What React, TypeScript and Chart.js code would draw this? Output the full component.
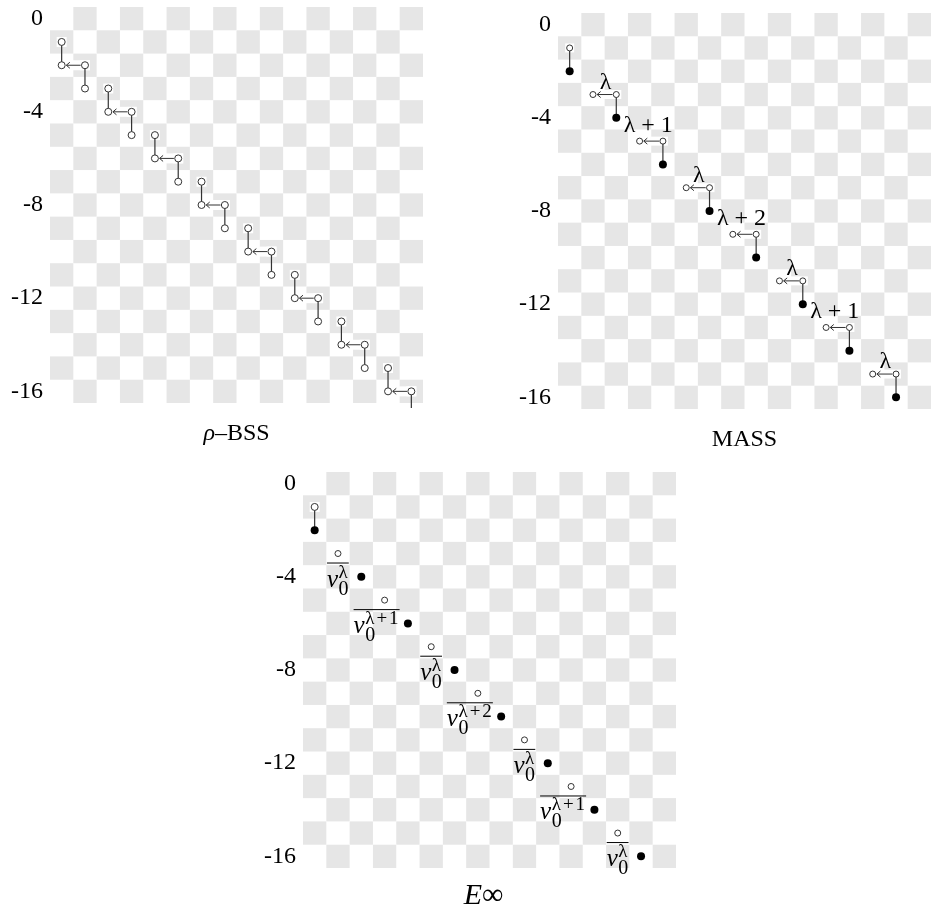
import React, { useEffect, useRef } from "react";
import { Chart, registerables } from "chart.js";
Chart.register(...registerables);

const SERIF = '"Liberation Serif", "Times New Roman", serif';
const CHECKER_GRAY = "#e6e6e6";
const INK = "#333333";

// shared grid (cells centred on integer values)
const gridCols = 16;
const gridRows = 17;
const xRange = [-0.5, 15.5];
const yRange = [-16.5, 0.5];
const yTickValues = [0, -4, -8, -12, -16];
const yTickLabels = ["0", "-4", "-8", "-12", "-16"];

// ---------- ρ–BSS ----------
const bssOpen = [
  [0, -1], [0, -2], [1, -2], [1, -3],
  [2, -3], [2, -4], [3, -4], [3, -5],
  [4, -5], [4, -6], [5, -6], [5, -7],
  [6, -7], [6, -8], [7, -8], [7, -9],
  [8, -9], [8, -10], [9, -10], [9, -11],
  [10, -11], [10, -12], [11, -12], [11, -13],
  [12, -13], [12, -14], [13, -14], [13, -15],
  [14, -15], [14, -16], [15, -16],
];
// [x, yFrom, yTo]
const bssLinks = [
  [0, -1, -2], [1, -2, -3], [2, -3, -4], [3, -4, -5],
  [4, -5, -6], [5, -6, -7], [6, -7, -8], [7, -8, -9],
  [8, -9, -10], [9, -10, -11], [10, -11, -12], [11, -12, -13],
  [12, -13, -14], [13, -14, -15], [14, -15, -16], [15, -16, -17],
];
// [xFrom, xTo, y]
const bssArrows = [
  [1, 0, -2], [3, 2, -4], [5, 4, -6], [7, 6, -8],
  [9, 8, -10], [11, 10, -12], [13, 12, -14], [15, 14, -16],
];

// ---------- MASS ----------
const massOpen = [
  [0, -1], [1, -3], [2, -3], [3, -5], [4, -5], [5, -7], [6, -7], [7, -9],
  [8, -9], [9, -11], [10, -11], [11, -13], [12, -13], [13, -15], [14, -15],
];
const massFilled = [
  [0, -2], [2, -4], [4, -6], [6, -8], [8, -10], [10, -12], [12, -14], [14, -16],
];
const massLinks = [
  [0, -1, -2], [2, -3, -4], [4, -5, -6], [6, -7, -8],
  [8, -9, -10], [10, -11, -12], [12, -13, -14], [14, -15, -16],
];
const massArrows = [
  [2, 1, -3], [4, 3, -5], [6, 5, -7], [8, 7, -9],
  [10, 9, -11], [12, 11, -13], [14, 13, -15],
];
const massLabels = ["λ", "λ + 1", "λ", "λ + 2", "λ", "λ + 1", "λ"];

// ---------- E∞ ----------
const einfOpen = [[0, -1]];
const einfFilled = [
  [0, -2], [2, -4], [4, -6], [6, -8], [8, -10], [10, -12], [12, -14], [14, -16],
];
const einfLinks = [[0, -1, -2]];
const einfNumerators = [
  [1, -3], [3, -5], [5, -7], [7, -9], [9, -11], [11, -13], [13, -15],
];
const einfExponents = ["λ", "λ+1", "λ", "λ+2", "λ", "λ+1", "λ"];

type Ctx = CanvasRenderingContext2D;

function linkData(links: number[][]) {
  const out: any[] = [];
  links.forEach(([x, a, b]) => {
    out.push({ x, y: a }, { x, y: b }, { x, y: null });
  });
  return out;
}

function whiteBox(ctx: Ctx, x0: number, x1: number, y: number, h: number) {
  ctx.fillStyle = "#ffffff";
  ctx.fillRect(x0, y - h, x1 - x0, 2 * h);
}

function drawArrow(ctx: Ctx, fromPx: number, toPx: number, yPx: number, r: number) {
  const tip = toPx + r + 1.2;
  const tail = fromPx - r - 0.8;
  ctx.save();
  ctx.strokeStyle = INK;
  ctx.lineWidth = 1;
  ctx.beginPath();
  ctx.moveTo(tail, yPx);
  ctx.lineTo(tip, yPx);
  ctx.moveTo(tip + 3.5, yPx - 3);
  ctx.lineTo(tip, yPx);
  ctx.lineTo(tip + 3.5, yPx + 3);
  ctx.stroke();
  ctx.restore();
}

const PLUS_GAP = 2;

// superscript with math-like spacing around "+"
function drawScript(ctx: Ctx, text: string, x: number, y: number) {
  const parts = text.split("+");
  let cx = x;
  parts.forEach((p, i) => {
    if (i > 0) {
      cx += PLUS_GAP;
      ctx.fillText("+", cx, y);
      cx += ctx.measureText("+").width + PLUS_GAP;
    }
    ctx.fillText(p, cx, y);
    cx += ctx.measureText(p).width;
  });
  return cx - x;
}

function scriptWidth(ctx: Ctx, text: string) {
  const parts = text.split("+");
  let w = 0;
  parts.forEach((p, i) => {
    if (i > 0) w += 2 * PLUS_GAP + ctx.measureText("+").width;
    w += ctx.measureText(p).width;
  });
  return w;
}

type Seg = { t: string; italic?: boolean };

type Spec = {
  left: number; top: number; width: number; height: number;
  padding: { top: number; right: number; bottom: number; left: number };
  open: number[][]; filled: number[][]; links: number[][];
  openRadius: number;
  caption: Seg[]; captionSize: number; captionOffset: number; captionShift: number;
  under?: (ctx: Ctx, X: (v: number) => number, Y: (v: number) => number) => void;
  over?: (ctx: Ctx, X: (v: number) => number, Y: (v: number) => number) => void;
};

const specs: Spec[] = [
  {
    left: 0, top: 0, width: 450, height: 460,
    padding: { top: 7, right: 27, bottom: 57, left: 0 },
    open: bssOpen, filled: [], links: bssLinks, openRadius: 3.5,
    caption: [{ t: "ρ", italic: true }, { t: "–BSS" }], captionSize: 24, captionOffset: 37, captionShift: 0,
    under: (ctx, X, Y) => {
      bssArrows.forEach(([f, t, y]) => whiteBox(ctx, X(t) - 5, X(f) + 5, Y(y), 5));
      bssOpen.forEach(([x, y]) => whiteBox(ctx, X(x) - 5, X(x) + 5, Y(y), 5));
    },
    over: (ctx, X, Y) => {
      bssArrows.forEach(([f, t, y]) => drawArrow(ctx, X(f), X(t), Y(y), 3.5));
    },
  },
  {
    left: 508, top: 6, width: 442, height: 460,
    padding: { top: 7, right: 19, bottom: 57, left: 0 },
    open: massOpen, filled: massFilled, links: massLinks, openRadius: 3,
    caption: [{ t: "MASS" }], captionSize: 24, captionOffset: 37, captionShift: 0,
    under: (ctx, X, Y) => {
      massArrows.forEach(([f, t, y]) => whiteBox(ctx, X(t) - 5, X(f) + 5, Y(y), 4.5));
      whiteBox(ctx, X(0) - 4.5, X(0) + 4.5, Y(-1), 4.5);
    },
    over: (ctx, X, Y) => {
      massArrows.forEach(([f, t, y]) => drawArrow(ctx, X(f), X(t), Y(y), 3));
      ctx.save();
      ctx.fillStyle = "#000";
      ctx.font = `24px ${SERIF}`;
      ctx.textAlign = "center";
      ctx.textBaseline = "alphabetic";
      massArrows.forEach(([f, t, y], i) => {
        const label = massLabels[i];
        const cx = (X(f) + X(t)) / 2 + (label.length > 1 ? -3 : 1);
        const off = label.length > 1 ? 9 : 6;
        ctx.fillText(label, cx, Y(y) - off);
      });
      ctx.restore();
    },
  },
  {
    left: 253, top: 465, width: 450, height: 448,
    padding: { top: 7, right: 27, bottom: 45, left: 0 },
    open: einfOpen, filled: einfFilled, links: einfLinks, openRadius: 3.5,
    caption: [{ t: "E", italic: true }, { t: "∞" }], captionSize: 30, captionOffset: 36, captionShift: -6,
    under: (ctx, X, Y) => {
      whiteBox(ctx, X(0) - 5, X(0) + 5, Y(-1), 5);
    },
    over: (ctx, X, Y) => {
      ctx.save();
      einfNumerators.forEach(([x, y], i) => {
        const cx = X(x), cy = Y(y);
        const exp = einfExponents[i];
        const wide = exp.length > 1;
        const left = wide ? cx - 31 : cx - 11;
        ctx.font = `italic 25px ${SERIF}`;
        const vW = ctx.measureText("v").width;
        ctx.font = `19px ${SERIF}`;
        const supW = scriptWidth(ctx, exp);
        const barR = left + vW + 0.5 + supW + 1;
        // numerator
        ctx.fillStyle = "#ffffff";
        ctx.strokeStyle = INK;
        ctx.lineWidth = 1;
        ctx.beginPath();
        ctx.arc(cx, cy, 3, 0, Math.PI * 2);
        ctx.fill();
        ctx.stroke();
        // bar
        ctx.strokeStyle = "#000";
        ctx.beginPath();
        ctx.moveTo(left, cy + 9.5);
        ctx.lineTo(barR, cy + 9.5);
        ctx.stroke();
        // denominator
        ctx.fillStyle = "#000";
        ctx.textAlign = "left";
        ctx.textBaseline = "alphabetic";
        ctx.font = `italic 25px ${SERIF}`;
        ctx.fillText("v", left, cy + 33);
        ctx.font = `19px ${SERIF}`;
        drawScript(ctx, exp, left + vW + 0.5, cy + 24);
        ctx.font = `20px ${SERIF}`;
        ctx.fillText("0", left + vW + 0.5, cy + 41);
      });
      ctx.restore();
    },
  },
];

function Panel({ spec }: { spec: Spec }) {
  const ref = useRef<HTMLCanvasElement | null>(null);
  useEffect(() => {
    if (!ref.current) return;
    const decor = {
      id: "decor",
      beforeDatasetsDraw(chart: any) {
        const { ctx, scales } = chart;
        const X = (v: number) => scales.x.getPixelForValue(v);
        const Y = (v: number) => scales.y.getPixelForValue(v);
        ctx.save();
        ctx.fillStyle = CHECKER_GRAY;
        for (let c = 0; c < gridCols; c++) {
          for (let r = 0; r < gridRows; r++) {
            if ((r + c) % 2 === 1) {
              const x0 = X(c - 0.5), x1 = X(c + 0.5);
              const y0 = Y(-r + 0.5), y1 = Y(-r - 0.5);
              ctx.fillRect(x0, y0, x1 - x0, y1 - y0);
            }
          }
        }
        if (spec.under) spec.under(ctx, X, Y);
        ctx.restore();
      },
      afterDatasetsDraw(chart: any) {
        const { ctx, scales } = chart;
        const X = (v: number) => scales.x.getPixelForValue(v);
        const Y = (v: number) => scales.y.getPixelForValue(v);
        if (spec.over) spec.over(ctx, X, Y);
      },
      afterDraw(chart: any) {
        const { ctx, chartArea } = chart;
        ctx.save();
        ctx.fillStyle = "#000";
        ctx.textBaseline = "alphabetic";
        ctx.textAlign = "left";
        const fonts = spec.caption.map(
          (s) => `${s.italic ? "italic " : ""}${spec.captionSize}px ${SERIF}`
        );
        let total = 0;
        const widths = spec.caption.map((s, i) => {
          ctx.font = fonts[i];
          const w = ctx.measureText(s.t).width;
          total += w;
          return w;
        });
        let x = (chartArea.left + chartArea.right) / 2 - total / 2 + spec.captionShift;
        const y = chartArea.bottom + spec.captionOffset;
        spec.caption.forEach((s, i) => {
          ctx.font = fonts[i];
          ctx.fillText(s.t, x, y);
          x += widths[i];
        });
        ctx.restore();
      },
    };
    const chart = new Chart(ref.current, {
      type: "scatter",
      data: {
        datasets: [
          {
            data: spec.open.map(([x, y]) => ({ x, y })),
            pointRadius: spec.openRadius,
            pointBackgroundColor: "#ffffff",
            pointBorderColor: INK,
            pointBorderWidth: 1,
            order: 0,
          } as any,
          {
            data: spec.filled.map(([x, y]) => ({ x, y })),
            pointRadius: 4,
            pointBackgroundColor: "#000000",
            pointBorderColor: "#000000",
            pointBorderWidth: 0,
            order: 0,
          } as any,
          {
            type: "line",
            data: linkData(spec.links),
            borderColor: INK,
            borderWidth: 1.2,
            pointRadius: 0,
            spanGaps: false,
            fill: false,
            order: 5,
            clip: { left: 0, top: 0, right: 0, bottom: 5 },
          } as any,
        ],
      },
      options: {
        animation: false,
        responsive: false,
        events: [],
        layout: { padding: spec.padding },
        plugins: { legend: { display: false }, tooltip: { enabled: false } },
        scales: {
          x: { type: "linear", min: xRange[0], max: xRange[1], display: false },
          y: {
            type: "linear",
            min: yRange[0],
            max: yRange[1],
            grid: { display: false, drawTicks: false },
            border: { display: false },
            afterBuildTicks: (s: any) => {
              s.ticks = yTickValues.map((v) => ({ value: v }));
            },
            afterFit: (s: any) => {
              s.width = 50;
              s.paddingTop = 0;
              s.paddingBottom = 0;
            },
            ticks: {
              autoSkip: false,
              padding: 7,
              color: "#000",
              font: { family: SERIF, size: 24 },
              callback: (v: any) => {
                const i = yTickValues.indexOf(Number(v));
                return i >= 0 ? yTickLabels[i] : "";
              },
            },
          },
        },
      } as any,
      plugins: [decor],
    });
    return () => chart.destroy();
  }, [spec]);
  return (
    <canvas
      ref={ref}
      width={spec.width}
      height={spec.height}
      style={{
        position: "absolute",
        left: spec.left,
        top: spec.top,
        width: spec.width,
        height: spec.height,
      }}
    />
  );
}

export default function App() {
  return (
    <div style={{ position: "absolute", left: 0, top: 0, width: 950, height: 913, background: "#fff" }}>
      {specs.map((s, i) => (
        <Panel key={i} spec={s} />
      ))}
    </div>
  );
}
